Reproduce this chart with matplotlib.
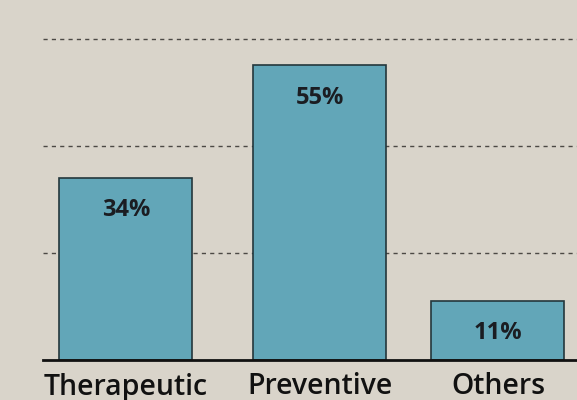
import matplotlib.pyplot as plt

categories = ["Therapeutic", "Preventive", "Others"]
shares = [34, 55, 11]
labels = ["34%", "55%", "11%"]
grid_levels = [20, 40, 60]

plt.rcParams['font.family'] = ['Open Sans', 'DejaVu Sans']

fig = plt.figure(figsize=(5.77, 4.0), dpi=100)
fig.patch.set_facecolor("#d9d4ca")
ax = fig.add_axes([43 / 577, 40 / 400, 534 / 577, 360 / 400])
ax.set_facecolor("#d9d4ca")

# bar centres, slightly uneven like the printed chart
pos = [0, 1.043, 2.0]
for g in grid_levels:
    ax.axhline(g, color="#4c4945", linestyle=(0, (3, 3)), linewidth=1.0, zorder=1)

bars = ax.bar(pos, shares, width=0.715, color="#62a6b8",
              edgecolor="#24373c", linewidth=1.2, zorder=2)
for b, lab in zip(bars, labels):
    ax.text(b.get_x() + b.get_width() / 2, b.get_height() - 6.0, lab,
            ha="center", va="center", fontsize=17, fontweight="bold",
            color="#1b1d22", zorder=3)

ax.set_xlim(-0.446, 2.425)
ax.set_ylim(0, 67.2)
ax.set_xticks(pos)
ax.set_xticklabels(categories, fontsize=20.5, fontweight="semibold", color="#111111")
ax.set_yticks([])
for s in ["top", "right", "left"]:
    ax.spines[s].set_visible(False)
ax.spines["bottom"].set_color("#111111")
ax.spines["bottom"].set_linewidth(2)
ax.tick_params(axis="x", length=0, pad=9)

fig.savefig("out.png", dpi=100, facecolor=fig.get_facecolor())
